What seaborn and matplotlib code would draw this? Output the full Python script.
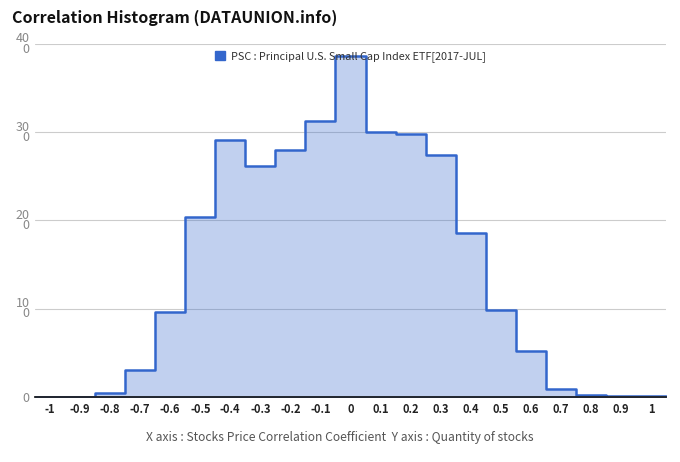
import numpy as np
import pandas as pd
import matplotlib
matplotlib.use("Agg")
import matplotlib.pyplot as plt
import seaborn as sns
from matplotlib.patches import Patch

# Data
centers = [-1.0, -0.9, -0.8, -0.7, -0.6, -0.5, -0.4, -0.3, -0.2, -0.1, 0.0,
           0.1, 0.2, 0.3, 0.4, 0.5, 0.6, 0.7, 0.8, 0.9, 1.0]
counts = [0.0, 0.0, 0.45, 3.05, 9.6, 20.4, 29.1, 26.2, 28.0, 31.3, 38.6,
          30.0, 29.8, 27.4, 18.6, 9.9, 5.25, 0.9, 0.2, 0.1, 0.15]
xtick_labels = ["-1", "-0.9", "-0.8", "-0.7", "-0.6", "-0.5", "-0.4", "-0.3", "-0.2",
                "-0.1", "0", "0.1", "0.2", "0.3", "0.4", "0.5", "0.6", "0.7", "0.8",
                "0.9", "1"]
ytick_values = [0, 10, 20, 30, 40]
ytick_labels = ["0", "10\n0", "20\n0", "30\n0", "40\n0"]
series_name = "PSC : Principal U.S. Small Cap Index ETF[2017-JUL]"
title = "Correlation Histogram (DATAUNION.info)"
xlabel = "X axis : Stocks Price Correlation Coefficient  Y axis : Quantity of stocks"

df = pd.DataFrame({"corr": centers, "count": counts})

sns.set_theme(style="white")
plt.rcParams["font.family"] = ["Noto Sans CJK KR", "DejaVu Sans"]

fig = plt.figure(figsize=(6.8, 4.62), dpi=100)
ax = fig.add_axes([35 / 680, 1 - 397 / 462, (666 - 35) / 680, (397 - 44) / 462])

line_color = "#3366cc"
sns.histplot(data=df, x="corr", weights="count", binwidth=0.1,
             binrange=(-1.05, 1.05), element="step",
             fill=True, ax=ax, color=line_color, alpha=0.3, linewidth=1.8,
             edgecolor=line_color)

ax.set_xlim(-1.05, 1.05)
ax.set_ylim(0, 40)
ax.set_xticks(centers)
ax.set_xticklabels(xtick_labels, fontsize=8, color="#222222", fontweight="bold")
ax.set_yticks(ytick_values)
ax.set_yticklabels(ytick_labels, fontsize=9, color="#888888", linespacing=0.72)
ax.tick_params(axis="both", length=0, pad=4)
ax.tick_params(axis="y", pad=4)
ax.grid(axis="y", color="#cccccc", linewidth=0.8)
ax.set_axisbelow(True)
for s in ["top", "right", "left"]:
    ax.spines[s].set_visible(False)
ax.spines["bottom"].set_color("#222222")
ax.spines["bottom"].set_linewidth(1.3)
ax.set_xlabel("")
ax.set_ylabel("")

fig.text(12 / 680, 1 - 18 / 462, title, fontsize=11.5, fontweight="bold",
         color="#111111", ha="left", va="center")

handle = Patch(facecolor=line_color, edgecolor=line_color)
ax.legend([handle], [series_name], loc="upper center", bbox_to_anchor=(0.5, 1.0),
          frameon=False, fontsize=7.8, handlelength=0.9, handleheight=0.9,
          handletextpad=0.6, borderpad=0.15, labelcolor="#333333")

fig.text(0.5, 1 - 437 / 462, xlabel, fontsize=8.7, color="#555555",
         ha="center", va="center")

fig.savefig("out.png", dpi=100)
